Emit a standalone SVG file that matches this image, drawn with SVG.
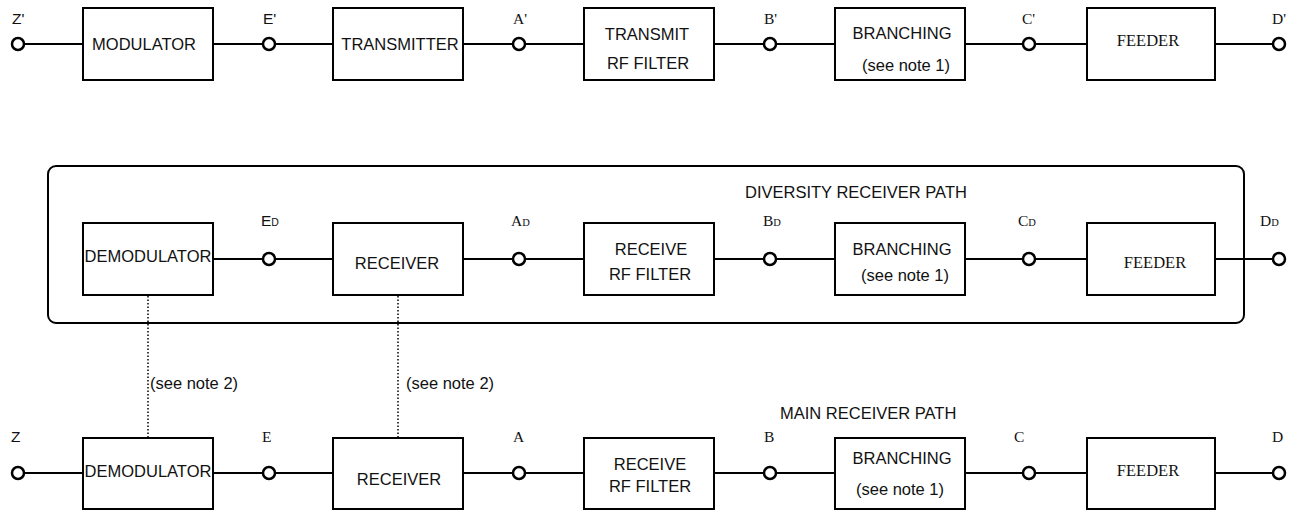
<svg xmlns="http://www.w3.org/2000/svg" width="1299" height="510" viewBox="0 0 1299 510">
<style>
.box{fill:#fff;stroke:#000;stroke-width:2}
.wire{stroke:#000;stroke-width:2;fill:none}
.dot{stroke:#000;stroke-width:1.5;stroke-dasharray:1.5 2;fill:none}
.term{fill:#fff;stroke:#000;stroke-width:2.5}
.s{font-family:"Liberation Sans",Arial,sans-serif;font-size:16.5px;fill:#111}
.sc{font-family:"Liberation Sans",Arial,sans-serif;font-size:16.5px;fill:#111;text-anchor:middle}
.r{font-family:"Liberation Serif","Times New Roman",serif;font-size:16.5px;fill:#111;text-anchor:middle}
.ls{font-family:"Liberation Sans",Arial,sans-serif;font-size:15.5px;fill:#111}
.lr{font-family:"Liberation Serif","Times New Roman",serif;font-size:15.5px;fill:#111}
.sub{font-size:10.5px}
</style>
<rect id="diversity-frame" x="48" y="166" width="1196" height="157" rx="8" ry="8" fill="none" stroke="#000" stroke-width="2"/>
<g id="connectors">
<line class="wire" x1="24" y1="44" x2="83" y2="44"/>
<line class="wire" x1="213" y1="44" x2="263" y2="44"/>
<line class="wire" x1="275" y1="44" x2="333" y2="44"/>
<line class="wire" x1="463" y1="44" x2="513" y2="44"/>
<line class="wire" x1="525" y1="44" x2="584" y2="44"/>
<line class="wire" x1="714" y1="44" x2="764" y2="44"/>
<line class="wire" x1="776" y1="44" x2="835" y2="44"/>
<line class="wire" x1="965" y1="44" x2="1023" y2="44"/>
<line class="wire" x1="1035" y1="44" x2="1087" y2="44"/>
<line class="wire" x1="1215" y1="44" x2="1273" y2="44"/>
<line class="wire" x1="213" y1="259" x2="263" y2="259"/>
<line class="wire" x1="275" y1="259" x2="333" y2="259"/>
<line class="wire" x1="463" y1="259" x2="513" y2="259"/>
<line class="wire" x1="525" y1="259" x2="584" y2="259"/>
<line class="wire" x1="714" y1="259" x2="764" y2="259"/>
<line class="wire" x1="776" y1="259" x2="835" y2="259"/>
<line class="wire" x1="965" y1="259" x2="1023" y2="259"/>
<line class="wire" x1="1035" y1="259" x2="1087" y2="259"/>
<line class="wire" x1="1215" y1="259" x2="1273" y2="259"/>
<line class="wire" x1="24" y1="473" x2="83" y2="473"/>
<line class="wire" x1="213" y1="473" x2="263" y2="473"/>
<line class="wire" x1="275" y1="473" x2="333" y2="473"/>
<line class="wire" x1="463" y1="473" x2="513" y2="473"/>
<line class="wire" x1="525" y1="473" x2="584" y2="473"/>
<line class="wire" x1="714" y1="473" x2="764" y2="473"/>
<line class="wire" x1="776" y1="473" x2="835" y2="473"/>
<line class="wire" x1="965" y1="473" x2="1023" y2="473"/>
<line class="wire" x1="1035" y1="473" x2="1087" y2="473"/>
<line class="wire" x1="1215" y1="473" x2="1273" y2="473"/>
<line class="dot" x1="148" y1="296" x2="148" y2="437"/>
<line class="dot" x1="398" y1="296" x2="398" y2="437"/>
</g>
<g id="terminals">
<circle class="term" cx="18" cy="44" r="6"/>
<circle class="term" cx="269" cy="44" r="6"/>
<circle class="term" cx="519" cy="44" r="6"/>
<circle class="term" cx="770" cy="44" r="6"/>
<circle class="term" cx="1029" cy="44" r="6"/>
<circle class="term" cx="1279" cy="44" r="6"/>
<circle class="term" cx="269" cy="259" r="6"/>
<circle class="term" cx="519" cy="259" r="6"/>
<circle class="term" cx="770" cy="259" r="6"/>
<circle class="term" cx="1029" cy="259" r="6"/>
<circle class="term" cx="1279" cy="259" r="6"/>
<circle class="term" cx="18" cy="473" r="6"/>
<circle class="term" cx="269" cy="473" r="6"/>
<circle class="term" cx="519" cy="473" r="6"/>
<circle class="term" cx="770" cy="473" r="6"/>
<circle class="term" cx="1029" cy="473" r="6"/>
<circle class="term" cx="1279" cy="473" r="6"/>
</g>
<g id="terminal-labels">
<text class="ls" x="12" y="24">Z'</text>
<text class="ls" x="263" y="24">E'</text>
<text class="lr" x="513" y="24">A'</text>
<text class="lr" x="764" y="24">B'</text>
<text class="lr" x="1022" y="24">C'</text>
<text class="lr" x="1272" y="24">D'</text>
<text class="ls" x="261" y="226">E<tspan class="sub">D</tspan></text>
<text class="lr" x="511" y="226">A<tspan class="sub">D</tspan></text>
<text class="lr" x="763" y="226">B<tspan class="sub">D</tspan></text>
<text class="lr" x="1018" y="226">C<tspan class="sub">D</tspan></text>
<text class="lr" x="1260" y="226">D<tspan class="sub">D</tspan></text>
<text class="ls" x="11" y="442">Z</text>
<text class="lr" x="262" y="442">E</text>
<text class="lr" x="513" y="442">A</text>
<text class="lr" x="764" y="442">B</text>
<text class="lr" x="1014" y="442">C</text>
<text class="lr" x="1272" y="442">D</text>
</g>
<g id="modulator"><rect class="box" x="83" y="8" width="130" height="72"/><text class="sc" x="144" y="50">MODULATOR</text></g>
<g id="transmitter"><rect class="box" x="333" y="8" width="130" height="72"/><text class="sc" x="400" y="50">TRANSMITTER</text></g>
<g id="tx-rf-filter"><rect class="box" x="584" y="8" width="130" height="72"/><text class="sc" x="647" y="40">TRANSMIT</text><text class="sc" x="648" y="69">RF FILTER</text></g>
<g id="tx-branching"><rect class="box" x="835" y="8" width="130" height="72"/><text class="sc" x="902" y="39">BRANCHING</text><text class="sc" x="906" y="71">(see note 1)</text></g>
<g id="tx-feeder"><rect class="box" x="1087" y="8" width="128" height="72"/><text class="r" x="1148" y="46">FEEDER</text></g>

<text id="diversity-title" class="s" x="745" y="198">DIVERSITY RECEIVER PATH</text>
<g id="div-demodulator"><rect class="box" x="83" y="223" width="130" height="72"/><text class="sc" x="148" y="262">DEMODULATOR</text></g>
<g id="div-receiver"><rect class="box" x="333" y="223" width="130" height="72"/><text class="sc" x="397" y="269">RECEIVER</text></g>
<g id="div-rf-filter"><rect class="box" x="584" y="223" width="130" height="72"/><text class="sc" x="651" y="255">RECEIVE</text><text class="sc" x="650" y="280">RF FILTER</text></g>
<g id="div-branching"><rect class="box" x="835" y="223" width="130" height="72"/><text class="sc" x="902" y="255">BRANCHING</text><text class="sc" x="905" y="281">(see note 1)</text></g>
<g id="div-feeder"><rect class="box" x="1087" y="223" width="128" height="72"/><text class="r" x="1155" y="268">FEEDER</text></g>

<text id="note2-a" class="s" x="150" y="389">(see note 2)</text>
<text id="note2-b" class="s" x="406" y="389">(see note 2)</text>

<text id="main-title" class="s" x="780" y="419">MAIN RECEIVER PATH</text>
<g id="main-demodulator"><rect class="box" x="83" y="438" width="130" height="71"/><text class="sc" x="148" y="477">DEMODULATOR</text></g>
<g id="main-receiver"><rect class="box" x="333" y="438" width="130" height="71"/><text class="sc" x="399" y="485">RECEIVER</text></g>
<g id="main-rf-filter"><rect class="box" x="584" y="438" width="130" height="71"/><text class="sc" x="650" y="470">RECEIVE</text><text class="sc" x="650" y="492">RF FILTER</text></g>
<g id="main-branching"><rect class="box" x="835" y="438" width="130" height="71"/><text class="sc" x="902" y="464">BRANCHING</text><text class="sc" x="900" y="495">(see note 1)</text></g>
<g id="main-feeder"><rect class="box" x="1087" y="438" width="128" height="71"/><text class="r" x="1148" y="476">FEEDER</text></g>
</svg>
